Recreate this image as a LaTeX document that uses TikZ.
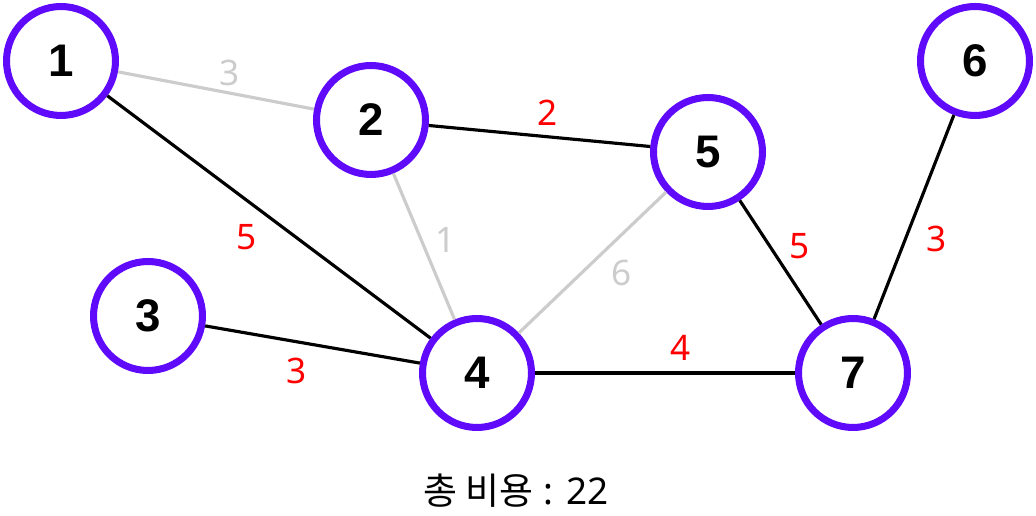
\documentclass[tikz,border=0pt]{standalone}
\usepackage{fontspec}
\setmainfont{Noto Sans}
\newfontfamily\krfont{Noto Sans CJK KR}
\newfontfamily\numfont{Liberation Sans}
\usetikzlibrary{positioning}

\definecolor{vpurple}{RGB}{95,10,250}
\definecolor{egray}{RGB}{204,204,204}
\definecolor{wred}{RGB}{255,0,0}

\tikzset{
  vertex/.style={circle, draw=vpurple, line width=4pt, fill=white,
    minimum size=2.18cm, inner sep=0pt,
    font=\numfont\bfseries\fontsize{26}{26}\selectfont},
  treeedge/.style={draw=black, line width=1.8pt},
  skipedge/.style={draw=egray, line width=1.8pt},
  wlabel/.style={text=wred, font=\fontsize{20}{20}\selectfont, inner sep=1pt},
  glabel/.style={text=egray, font=\fontsize{20}{20}\selectfont, inner sep=1pt}
}

\begin{document}
\begin{tikzpicture}[x=0.02cm, y=-0.02cm]
  \useasboundingbox (0,0) rectangle (1036,516);

  % vertices
  \node[vertex] (v1) at (61,61) {1};
  \node[vertex] (v2) at (371,120) {2};
  \node[vertex] (v3) at (148,316) {3};
  \node[vertex] (v4) at (477,373) {4};
  \node[vertex] (v5) at (708,152) {5};
  \node[vertex] (v6) at (975,61) {6};
  \node[vertex] (v7) at (853,373) {7};

  % edges not taken
  \draw[skipedge] (v1) -- (v2);
  \draw[skipedge] (v2) -- (v4);
  \draw[skipedge] (v5) -- (v4);

  % spanning tree
  \draw[treeedge] (v1) -- (v4);
  \draw[treeedge] (v2) -- (v5);
  \draw[treeedge] (v3) -- (v4);
  \draw[treeedge] (v4) -- (v7);
  \draw[treeedge] (v5) -- (v7);
  \draw[treeedge] (v6) -- (v7);

  % weights
  \node[glabel] (w12) at (230,73) {3};
  \node[glabel] (w24) at (446,240) {1};
  \node[glabel] (w45) at (622,273) {6};
  \node[wlabel] (w14) at (247,237) {5};
  \node[wlabel] (w25) at (548,113) {2};
  \node[wlabel] (w34) at (297,371) {3};
  \node[wlabel] (w47) at (681,348) {4};
  \node[wlabel] (w57) at (800,246) {5};
  \node[wlabel] (w67) at (937,239) {3};

  % total
  \node[font=\fontsize{21}{21}\selectfont] (total) at (516,491) {{\krfont 총 비용} : 22};
\end{tikzpicture}
\end{document}
